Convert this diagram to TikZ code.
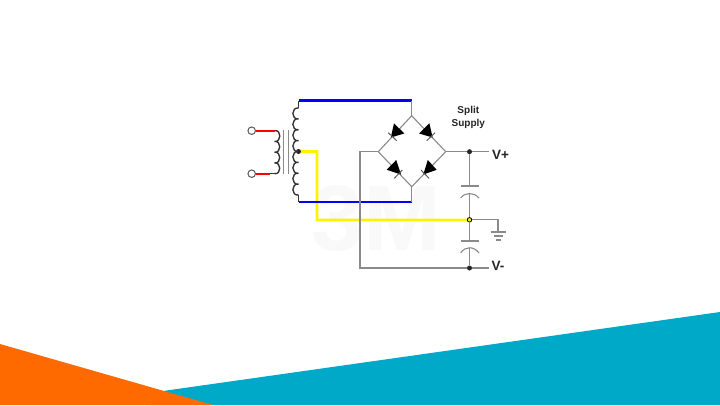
\documentclass[tikz,border=0pt]{standalone}
\usepackage{fontspec}
\setmainfont{Liberation Sans}
\definecolor{teal1}{HTML}{00A9C8}
\definecolor{orange1}{HTML}{FF6A00}
\definecolor{wire}{HTML}{8A8A8A}
\definecolor{mark3m}{HTML}{F9F9F9}
\tikzset{
  graywire/.style={draw=wire,line width=1.1pt},
  bluewire/.style={draw=blue,line width=2.6pt},
  redwire/.style={draw=red,line width=2.4pt},
  yellowwire/.style={draw=yellow,line width=2.6pt},
  coil/.style={draw=black!80,line width=1.35pt},
  terminal/.style={circle,draw=black!65,fill=white,line width=1pt,minimum size=7.5pt,inner sep=0pt},
  blackdot/.style={circle,fill=black!85,minimum size=5pt,inner sep=0pt},
  yellowdot/.style={circle,draw=black,fill=yellow,line width=0.8pt,minimum size=4.5pt,inner sep=0pt},
  lbl/.style={font=\fontsize{13.5}{15}\selectfont\bfseries,text=black!85,inner sep=0pt},
  splitlbl/.style={font=\fontsize{10}{13.4}\selectfont\bfseries,text=black!85,inner sep=0pt,align=center},
  diodetri/.style={fill=black,draw=none},
  diodebar/.style={draw=black!65,line width=1pt}
}
\begin{document}
\begin{tikzpicture}[x=1pt,y=-1pt]
\useasboundingbox (0,0) rectangle (720,405);
\fill[white] (0,0) rectangle (720,405);
% background shapes
\fill[teal1] (720,312) -- (720,405) -- (150,405) -- (165,390.7) -- cycle;
\fill[orange1] (0,344) -- (213,405) -- (0,405) -- cycle;
% watermark
\node[font=\fontsize{93}{93}\selectfont\bfseries,text=mark3m,inner sep=0pt] (wm) at (376,219) {3M};
% junctions
\coordinate (secTop) at (298.5,100.7);
\coordinate (coilTop) at (298.5,108);
\coordinate (coilBot) at (298.5,195);
\coordinate (secBot) at (298.5,202);
\coordinate (brTopA) at (411.7,100.7);
\coordinate (brTop) at (411.7,115.7);
\coordinate (brLeft) at (378.3,151.7);
\coordinate (brRight) at (445.7,151.7);
\coordinate (brBot) at (411.7,186.7);
\coordinate (brBotA) at (411.7,202);
\coordinate (leftDown) at (360,151.7);
\coordinate (leftCorner) at (360,268);
\coordinate (yellowA) at (317,151.5);
\coordinate (yellowB) at (317,220);
\coordinate (capTopPlate) at (469.5,186);
\coordinate (capTopArc) at (469.5,193.5);
\coordinate (capBotPlate) at (469.5,241);
\coordinate (capBotArc) at (469.5,247.7);
\coordinate (gndA) at (498,219.8);
\coordinate (gndB) at (498,232);
\coordinate (vpEnd) at (489,151.7);
\coordinate (vmEnd) at (489,268);
\coordinate (priTop) at (275,130.7);
\coordinate (priBot) at (275,173.7);
\coordinate (redBotEnd) at (270,173.7);
% nodes
\node[terminal] (t1) at (251.7,130.7) {};
\node[terminal] (t2) at (251.7,173.7) {};
\node[blackdot] (tap) at (298.5,151.5) {};
\node[blackdot] (vpd) at (469.5,151.7) {};
\node[blackdot] (vmd) at (469.5,268) {};
\node[yellowdot] (mid) at (469.5,219.8) {};
% yellow
\draw[yellowwire] (tap) -- (yellowA) -- (yellowB) -- (mid);
% blue
\draw[bluewire] (secTop) -- (brTopA);
\draw[bluewire] (secBot) -- (brBotA);
% gray wiring
\draw[graywire] (brTop) -- (brRight) -- (brBot) -- (brLeft) -- cycle;
\draw[graywire] (brTopA) -- (brTop);
\draw[graywire] (brBot) -- (brBotA);
\draw[graywire] (brLeft) -- (leftDown) -- (leftCorner) -- (vmd);
\draw[graywire] (vmd) -- (vmEnd);
\draw[graywire] (brRight) -- (vpd) -- (vpEnd);
\draw[graywire] (vpd) -- (capTopPlate);
\draw[graywire] (capTopArc) -- (mid);
\draw[graywire] (mid) -- (capBotPlate);
\draw[graywire] (capBotArc) -- (vmd);
\draw[graywire] (mid) -- (gndA) -- (gndB);
% capacitor plates
\draw[graywire] (460.7,186) -- (479,186);
\draw[graywire] (460.7,198) .. controls (465,192) and (474,192) .. (479,198);
\draw[graywire] (460.7,241) -- (479,241);
\draw[graywire] (460.7,253) .. controls (465,246) and (474,246) .. (479,253);
% ground
\draw[graywire] (490.7,232) -- (506,232);
\draw[graywire] (494,236) -- (503,236);
\draw[graywire] (496,240) -- (500.5,240);
% diodes
\fill[diodetri] (394,123.3) -- (404.3,133.5) -- (390.8,137.5) -- cycle;
\draw[diodebar] (388.3,132.7) -- (396.7,140.7);
\fill[diodetri] (429.4,123.3) -- (419.1,133.5) -- (432.6,137.5) -- cycle;
\draw[diodebar] (435.1,132.7) -- (426.7,140.7);
\fill[diodetri] (396.2,160) -- (386.7,169.8) -- (401,174.5) -- cycle;
\draw[diodebar] (394.3,178.3) -- (402.3,170);
\fill[diodetri] (427.8,160) -- (436.7,169.8) -- (423.3,174.5) -- cycle;
\draw[diodebar] (421,170) -- (429,178.3);
% transformer core
\draw[draw=wire,line width=1pt] (283.5,130) -- (283.5,174);
\draw[draw=wire,line width=1pt] (288.8,130) -- (288.8,174);
% red leads
\draw[redwire] (t1) -- (priTop);
\draw[redwire] (t2) -- (redBotEnd);
\draw[coil] (redBotEnd) -- (priBot);
% secondary coil
\draw[coil] (secTop) -- (coilTop);
\draw[coil] (coilTop)
  \foreach \n in {0,...,7}{
    .. controls (291,{108+\n*10.875-1}) and (291,{108+(\n+1)*10.875+1}) .. (298.5,{108+(\n+1)*10.875})
  };
\draw[coil] (coilBot) -- (secBot);
% primary coil
\draw[coil] (priTop)
  \foreach \n in {0,...,3}{
    .. controls (281.5,{130.7+\n*10.75-1}) and (281.5,{130.7+(\n+1)*10.75+1}) .. (274.5,{130.7+(\n+1)*10.75})
  };
% labels
\node[splitlbl] (split) at (468.3,117.3) {Split\\Supply};
\node[lbl,anchor=west] (vp) at (491.8,155.3) {V+};
\node[lbl,anchor=west] (vm) at (491.5,265.7) {V-};
\end{tikzpicture}
\end{document}
